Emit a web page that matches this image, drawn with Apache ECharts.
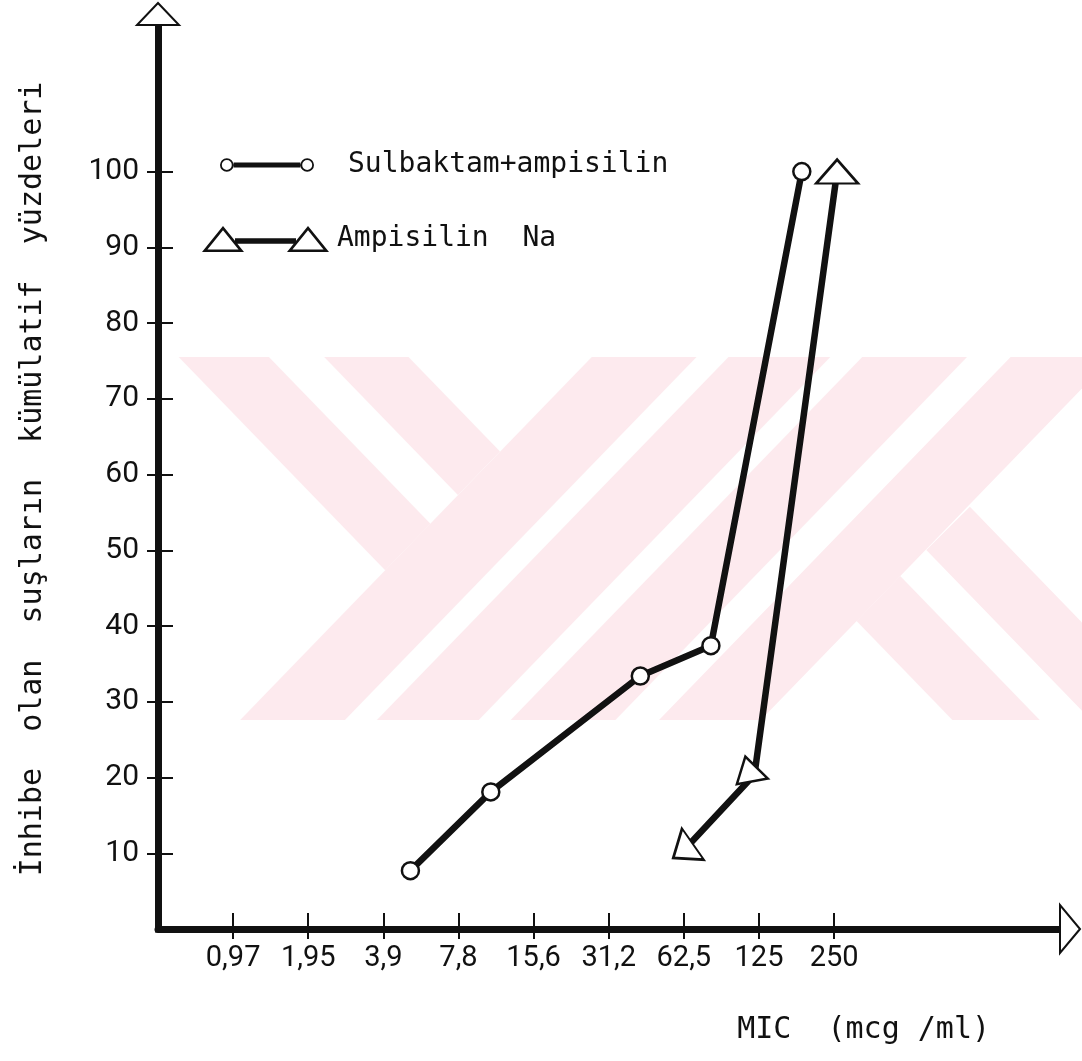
<!DOCTYPE html>
<html>
<head>
<meta charset="utf-8">
<script src="https://cdn.jsdelivr.net/npm/echarts@6/dist/echarts.min.js"></script>
<style>
  html, body { margin: 0; padding: 0; background: #ffffff; }
  #chart { width: 1082px; height: 1061px; }
</style>
</head>
<body>
<div id="chart"></div>
<script>
// ---------------- DATA ----------------
const xTickPositions = [1, 2, 3, 4, 5, 6, 7, 8, 9];
const xTickLabels = ['0,97', '1,95', '3,9', '7,8', '15,6', '31,2', '62,5', '125', '250'];
const yTickValues = [10, 20, 30, 40, 50, 60, 70, 80, 90, 100];

const sulbName = 'Sulbaktam+ampisilin';
const sulbX = [3.36, 4.43, 6.42, 7.36, 8.57];
const sulbY = [7.7, 18.1, 33.4, 37.4, 100];

const ampName = 'Ampisilin Na';
const ampX = [6.99, 7.94, 9.04];
const ampY = [10.3, 20.4, 100];

const xAxisTitle = 'MIC  (mcg /ml)';
const yAxisTitle = 'İnhibe  olan  suşların  kümülatif  yüzdeleri';

// ---------------- STYLE ----------------
const INK = '#111111';
const NUM_FONT = 'Roboto';
const TXT_FONT = 'DejaVu Sans Mono';
const X_MAX = 12.14;
const Y_MAX = 120.8;
const ampMarkerRotate = [125, -107, 0];
const ampMarkerSize = [[38, 24], [29, 28], [42, 24]];

const sulbIcon = 'path://M0 7A6.8 6.8 0 1 1 13.6 7A6.8 6.8 0 1 1 0 7Z M1.8 7A5 5 0 1 0 11.8 7A5 5 0 1 0 1.8 7Z M13.6 4.6L80.4 4.6L80.4 9.4L13.6 9.4Z M80.4 7A6.8 6.8 0 1 1 94 7A6.8 6.8 0 1 1 80.4 7Z M82.2 7A5 5 0 1 0 92.2 7A5 5 0 1 0 82.2 7Z';
const ampIcon = 'path://M21 0L42 26L0 26Z M21 4.14L5.44 23.4L36.56 23.4Z M33 12.3L94 12.3L94 17.7L33 17.7Z M106 0L127 26L85 26Z M106 4.14L90.44 23.4L121.56 23.4Z';

// background watermark (scan decoration)
const WM = '#fdeaee';
const watermarkShapes = [
  [[591.8,357],[696.5,357],[344.9,720],[240.2,720]],
  [[728.5,357],[830.3,357],[478.7,720],[376.9,720]],
  [[862.3,357],[967.0,357],[615.4,720],[510.7,720]],
  [[1010.6,357],[1112.4,357],[760.8,720],[659.0,720]],
  [[178.7,357],[268.9,357],[430.4,523.7],[385.2,570.2]],
  [[324.2,357],[408.5,357],[500,451.6],[457.9,495]],
  [[856.6,621.1],[900.2,576],[1039.7,720],[952.4,720]],
  [[926.3,550],[969.9,506.7],[1176.5,720],[1091,720]]
];

const chart = echarts.init(document.getElementById('chart'), null, { renderer: 'canvas' });

const sulbData = sulbX.map((x, i) => [x, sulbY[i]]);
const ampData = ampX.map((x, i) => ({
  value: [x, ampY[i]],
  symbolRotate: ampMarkerRotate[i],
  symbolSize: ampMarkerSize[i]
}));

const tickStyle = { color: INK, width: 2 };

const option = {
  backgroundColor: '#ffffff',
  animation: false,
  graphic: {
    elements: watermarkShapes.map(pts => ({
      type: 'polygon', z: -10, silent: true,
      shape: { points: pts },
      style: { fill: WM }
    }))
  },
  grid: { left: 158, right: 12, top: 14, bottom: 132, containLabel: false, outerBoundsMode: 'none' },
  legend: [
    {
      data: [sulbName], left: 220, top: 151, padding: 0, selectedMode: false,
      icon: sulbIcon, itemWidth: 94, itemHeight: 13.6,
      itemStyle: { color: INK, borderWidth: 0 },
      textStyle: { fontFamily: TXT_FONT, fontSize: 28, color: INK, padding: [0, 0, 0, 29] }
    },
    {
      data: [ampName], left: 202, top: 225, padding: 0, selectedMode: false,
      icon: ampIcon, itemWidth: 127, itemHeight: 26,
      itemStyle: { color: INK, borderWidth: 0 },
      formatter: () => 'Ampisilin  Na',
      textStyle: { fontFamily: TXT_FONT, fontSize: 28, color: INK, padding: [0, 0, 0, 3] }
    }
  ],
  xAxis: [
    {
      type: 'value', min: 0, max: X_MAX, position: 'bottom',
      axisLine: { show: true, onZero: false, symbol: ['none', 'emptyTriangle'], symbolSize: [48, 20],
                  lineStyle: { color: INK, width: 7 } },
      axisTick: { show: true, inside: false, length: 10, lineStyle: tickStyle, customValues: xTickPositions },
      axisLabel: { show: true, customValues: xTickPositions, margin: 15, color: INK,
                   fontFamily: NUM_FONT, fontSize: 29,
                   formatter: v => { const k = xTickPositions.indexOf(Math.round(v)); return k >= 0 ? xTickLabels[k] : ''; } },
      splitLine: { show: false },
      name: xAxisTitle, nameLocation: 'end', nameGap: -80, nameMoveOverlap: false,
      nameTextStyle: { fontFamily: TXT_FONT, fontSize: 30, color: INK, align: 'right', verticalAlign: 'top', padding: [86, 0, 0, 0] }
    },
    {
      type: 'value', min: 0, max: X_MAX, position: 'bottom',
      axisLine: { show: false },
      axisTick: { show: true, inside: true, length: 16, lineStyle: tickStyle, customValues: xTickPositions },
      axisLabel: { show: false },
      splitLine: { show: false }
    }
  ],
  yAxis: [
    {
      type: 'value', min: 0, max: Y_MAX, position: 'left',
      axisLine: { show: true, onZero: false, symbol: ['none', 'emptyTriangle'], symbolSize: [42, 22],
                  lineStyle: { color: INK, width: 7, cap: 'square' } },
      axisTick: { show: true, inside: false, length: 11, lineStyle: tickStyle, customValues: yTickValues },
      axisLabel: { show: true, customValues: yTickValues, margin: 19, color: INK,
                   fontFamily: NUM_FONT, fontSize: 30, padding: [0, 0, 12, 0] },
      splitLine: { show: false },
      name: yAxisTitle, nameLocation: 'middle', nameGap: 110, nameMoveOverlap: false,
      nameTextStyle: { fontFamily: TXT_FONT, fontSize: 30, color: INK, padding: [0, 15, 0, 0] }
    },
    {
      type: 'value', min: 0, max: Y_MAX, position: 'left',
      axisLine: { show: false },
      axisTick: { show: true, inside: true, length: 15, lineStyle: tickStyle, customValues: yTickValues },
      axisLabel: { show: false },
      splitLine: { show: false }
    }
  ],
  series: [
    {
      name: sulbName, type: 'line', xAxisIndex: 0, yAxisIndex: 0,
      data: sulbData,
      symbol: 'circle', symbolSize: 17,
      lineStyle: { color: INK, width: 6.5 },
      itemStyle: { color: '#ffffff', borderColor: INK, borderWidth: 2.5 },
      emphasis: { disabled: true }, z: 3
    },
    {
      name: ampName, type: 'line', xAxisIndex: 0, yAxisIndex: 0,
      data: ampData,
      symbol: 'triangle',
      lineStyle: { color: INK, width: 6.5 },
      itemStyle: { color: '#ffffff', borderColor: INK, borderWidth: 2.5 },
      emphasis: { disabled: true }, z: 3
    }
  ]
};

chart.setOption(option);
</script>
</body>
</html>
